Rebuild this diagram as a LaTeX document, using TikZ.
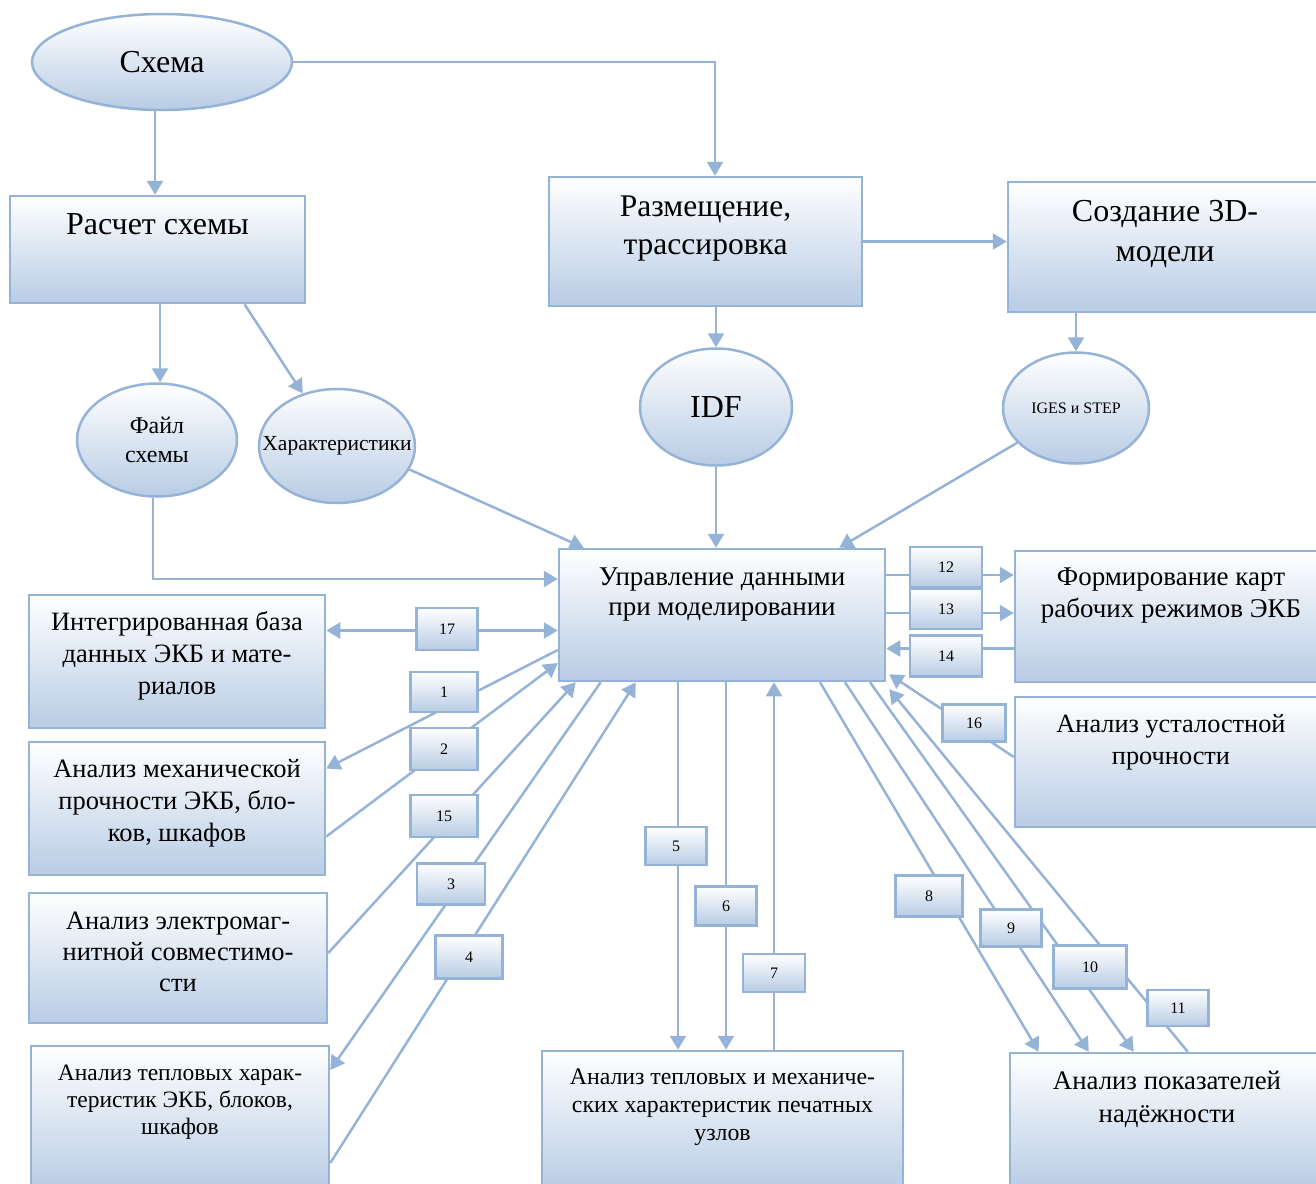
\documentclass[tikz,border=0pt]{standalone}
\usepackage{fontspec}
\setmainfont{Liberation Serif}
\usetikzlibrary{shapes.geometric, arrows.meta, positioning}
\definecolor{lineblue}{RGB}{149,179,215}
\definecolor{gradblue}{RGB}{184,204,228}

\begin{document}
\begin{tikzpicture}[
                x=1pt, y=-1pt,
                >={Triangle[length=14pt, width=16pt]},
                shaded/.style={draw=lineblue, line width=2.5pt, top color=white, bottom color=gradblue},
                block/.style={shaded, rectangle, inner sep=0pt},
                oval/.style={shaded, ellipse, inner sep=0pt, align=center},
                num/.style={shaded, rectangle, inner sep=0pt, minimum width=64pt, minimum height=40pt, font=\fontsize{16}{19}\selectfont},
                blocktext/.style={align=center, inner sep=0pt},
                link/.style={draw=lineblue, line width=2.5pt}
                ]
            \useasboundingbox (0,0) rectangle (1316,1183);
            % Ovals
            \node[oval, minimum width=260pt, minimum height=96pt, font=\fontsize{32}{38}\selectfont] (schema) at (162,62) {Схема};
            \node[oval, minimum width=160pt, minimum height=113pt, font=\fontsize{24}{29}\selectfont] (fajl) at (157,440) {Файл\\схемы};
            \node[oval, minimum width=156pt, minimum height=114pt,
                  label={[font=\fontsize{21.5}{24}\selectfont]center:Характеристики}] (khar) at (337,446) {};
            \node[oval, minimum width=152pt, minimum height=117pt, font=\fontsize{32}{38}\selectfont] (idf) at (716,407) {IDF};
            \node[oval, minimum width=146pt, minimum height=111pt, font=\fontsize{16}{19}\selectfont] (iges) at (1076,408) {IGES и STEP};
            % Blocks
            \node[block, minimum width=295pt, minimum height=107pt] (rasch) at (157.5,249.5) {};
            \node[block, minimum width=313pt, minimum height=129pt] (razm) at (705.5,241.5) {};
            \node[block, minimum width=314pt, minimum height=130pt] (sozd) at (1165,247) {};
            \node[block, minimum width=326pt, minimum height=132pt] (upr) at (722,615) {};
            \node[block, minimum width=312pt, minimum height=131pt] (form) at (1171,616.5) {};
            \node[block, minimum width=312pt, minimum height=130pt] (ustal) at (1171,762) {};
            \node[block, minimum width=296pt, minimum height=133pt] (integr) at (177,661.5) {};
            \node[block, minimum width=296pt, minimum height=133pt] (mekh) at (177,808.5) {};
            \node[block, minimum width=298pt, minimum height=130pt] (emc) at (178,958) {};
            \node[block, minimum width=298pt, minimum height=144pt] (teplb) at (180,1118) {};
            \node[block, minimum width=361pt, minimum height=139pt] (teplp) at (722.5,1120.5) {};
            \node[block, minimum width=314pt, minimum height=137pt] (nadezh) at (1167,1121.5) {};
            % Block texts
            \node[blocktext, font=\fontsize{32}{40}\selectfont, below=19pt of rasch.north] (rasch-t) {Расчет схемы};
            \node[blocktext, font=\fontsize{31.5}{38}\selectfont, below=20pt of razm.north] (razm-t) {Размещение,\\трассировка};
            \node[blocktext, font=\fontsize{32}{40}\selectfont, below=19pt of sozd.north] (sozd-t) {Создание 3D-\\модели};
            \node[blocktext, font=\fontsize{27}{30}\selectfont, below=20pt of upr.north] (upr-t) {Управление данными\\при моделировании};
            \node[blocktext, font=\fontsize{27}{32}\selectfont, below=18pt of form.north] (form-t) {Формирование карт\\рабочих режимов ЭКБ};
            \node[blocktext, font=\fontsize{26.3}{32}\selectfont, below=19pt of ustal.north] (ustal-t) {Анализ усталостной\\прочности};
            \node[blocktext, font=\fontsize{26.5}{32}\selectfont, below=18pt of integr.north] (integr-t) {Интегрированная база\\данных ЭКБ и мате-\\риалов};
            \node[blocktext, font=\fontsize{26.5}{32}\selectfont, below=18pt of mekh.north] (mekh-t) {Анализ механической\\прочности ЭКБ, бло-\\ков, шкафов};
            \node[blocktext, font=\fontsize{26.5}{31}\selectfont, below=20pt of emc.north] (emc-t) {Анализ электромаг-\\нитной совместимо-\\сти};
            \node[blocktext, font=\fontsize{23.5}{27}\selectfont, below=20pt of teplb.north] (teplb-t) {Анализ тепловых харак-\\теристик ЭКБ, блоков,\\шкафов};
            \node[blocktext, font=\fontsize{23.8}{28}\selectfont, below=19pt of teplp.north] (teplp-t) {Анализ тепловых и механиче-\\ских характеристик печатных\\узлов};
            \node[blocktext, font=\fontsize{26.8}{33}\selectfont, below=19pt of nadezh.north] (nadezh-t) {Анализ показателей\\надёжности};
            % Edges
            \draw[link, ->] ([xshift=-7pt]schema.south) -- ([xshift=-7pt]schema.south |- rasch.north);
            \draw[link, ->] (schema.east) -| ([xshift=9.5pt]razm.north);
            \draw[link, ->] (razm.east) -- (razm.east -| sozd.west);
            \draw[link, ->] ([xshift=2.5pt]rasch.south) -- ([xshift=2.5pt]rasch.south |- fajl.north);
            \draw[link, ->] ([xshift=87pt]rasch.south) -- (khar);
            \draw[link, ->] (idf.north |- razm.south) -- (idf.north);
            \draw[link, ->] (iges.north |- sozd.south) -- (iges.north);
            \draw[link, ->] ([xshift=-4pt]fajl.south) |- ([yshift=36pt]upr.west);
            \draw[link, ->] (khar.-18) -- ([xshift=26pt]upr.north west);
            \draw[link, ->] (idf.south) -- (idf.south |- upr.north);
            \draw[link, ->] (iges) -- ([xshift=-47pt]upr.north east);
            \draw[link, <->] ([yshift=31pt]integr.east) -- ([yshift=31pt]integr.east -| upr.west);
            \draw[link, ->] ([yshift=-35pt]upr.west) -- ([yshift=40pt]mekh.east);
            \draw[link, ->] ([yshift=-28pt]mekh.east) -- ([yshift=-48pt]upr.west);
            \draw[link, ->] ([yshift=5pt]emc.east) -- ([xshift=18pt]upr.south west);
            \draw[link, ->] ([xshift=43pt]upr.south west) -- ([yshift=48pt]teplb.east);
            \draw[link, ->] ([yshift=-45pt]teplb.east) -- ([xshift=78pt]upr.south west);
            \draw[link, ->] ([xshift=-44pt]upr.south) -- ([xshift=-44pt]upr.south |- teplp.north);
            \draw[link, ->] ([xshift=4pt]upr.south) -- ([xshift=4pt]upr.south |- teplp.north);
            \draw[link, ->] ([xshift=52pt]upr.south |- teplp.north) -- ([xshift=52pt]upr.south);
            \draw[link, ->] ([xshift=98pt]upr.south) -- ([xshift=30pt]nadezh.north west);
            \draw[link, ->] ([xshift=123pt]upr.south) -- ([xshift=80pt]nadezh.north west);
            \draw[link, ->] ([xshift=148pt]upr.south) -- ([xshift=125pt]nadezh.north west);
            \draw[link, ->] ([xshift=179pt]nadezh.north west) -- ([xshift=3pt, yshift=-7pt]upr.south east);
            \draw[link, ->] ([yshift=5pt]ustal.west) -- ([xshift=3pt, yshift=8pt]upr.south east);
            \draw[link, ->] ([yshift=40pt]upr.east) -- ([yshift=40pt]upr.east -| form.west);
            \draw[link, ->] ([yshift=2pt]upr.east) -- ([yshift=2pt]upr.east -| form.west);
            \draw[link, ->] ([yshift=-32pt]form.west) -- ([yshift=-32pt]form.west -| upr.east);
            % Numbers
            \node[num, minimum width=61pt, minimum height=42pt] (n17) at (447,629) {17};
            \node[num, minimum width=67pt] (n1) at (444,692) {1};
            \node[num, minimum width=67pt, minimum height=42pt] (n2) at (444,749) {2};
            \node[num, minimum width=67pt, minimum height=42pt] (n15) at (444,816) {15};
            \node[num, minimum width=68pt, minimum height=41pt] (n3) at (451,884) {3};
            \node[num, minimum width=67pt, minimum height=43pt] (n4) at (469,957) {4};
            \node[num, minimum width=61pt, minimum height=38pt] (n5) at (676,846) {5};
            \node[num, minimum width=61pt, minimum height=39pt] (n6) at (726,906) {6};
            \node[num, minimum width=62pt, minimum height=38pt] (n7) at (774,973) {7};
            \node[num, minimum width=67pt, minimum height=41pt] (n8) at (929,896) {8};
            \node[num, minimum width=61pt, minimum height=37pt] (n9) at (1011,928) {9};
            \node[num, minimum width=73pt, minimum height=43pt] (n10) at (1090,967) {10};
            \node[num, minimum width=61pt, minimum height=36pt] (n11) at (1178,1008) {11};
            \node[num, minimum width=72pt] (n12) at (946,567) {12};
            \node[num, minimum width=72pt] (n13) at (946,609) {13};
            \node[num, minimum width=72pt, minimum height=41pt] (n14) at (946,656) {14};
            \node[num, minimum width=63pt, minimum height=37pt] (n16) at (974,723) {16};

            \end{tikzpicture}
\end{document}
